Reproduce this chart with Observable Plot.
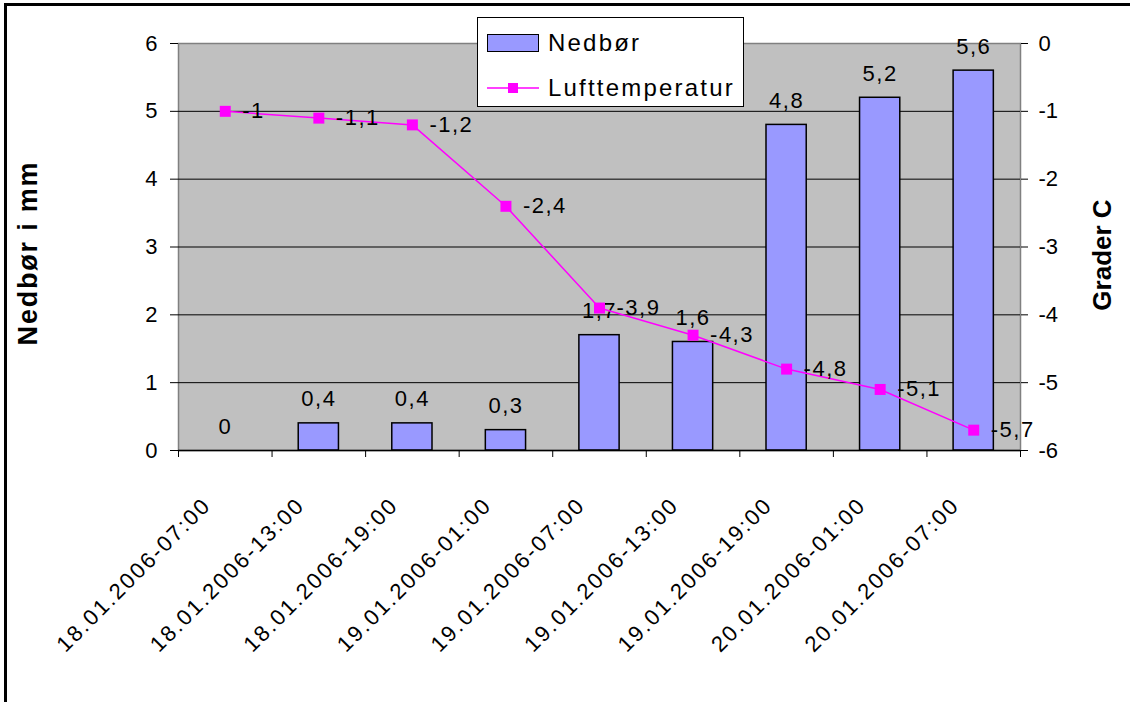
<!DOCTYPE html>
<html><head><meta charset="utf-8">
<script src="https://cdn.jsdelivr.net/npm/d3@7"></script>
<script src="https://cdn.jsdelivr.net/npm/@observablehq/plot@0.6"></script>
<style>
body{margin:0;background:#fff;font-family:"Liberation Sans",Arial,sans-serif;}
#wrap{position:relative;width:1130px;height:702px;overflow:hidden;background:#fff;}
#border{position:absolute;left:4px;top:3px;width:1200px;height:800px;border-left:3px solid #000;border-top:3px solid #000;}
#chart{position:absolute;left:0;top:0;}
#legend{position:absolute;left:477px;top:17px;width:265px;height:88px;border:1px solid #000;background:#fff;z-index:2;}
#legend .sw{position:absolute;left:9px;top:16px;width:50px;height:16px;background:#9999FF;border:1px solid #000;}
#legend .lab{position:absolute;left:70px;font-size:24px;line-height:24px;letter-spacing:2.2px;color:#000;white-space:nowrap;}
#legend svg{position:absolute;left:9px;top:62px;}
</style>
</head><body>
<div id="wrap"><div id="border"></div><div id="chart"></div>
<div id="legend">
  <div class="sw"></div><div class="lab" style="top:13px">Nedbør</div>
  <svg width="52" height="16"><line x1="0" x2="52" y1="8" y2="8" stroke="#FF00FF" stroke-width="1.5"/><rect x="21" y="3" width="10" height="10" fill="#FF00FF"/></svg>
  <div class="lab" style="top:58px">Lufttemperatur</div>
</div>
</div>
<script>
const labels = ["18.01.2006-07:00","18.01.2006-13:00","18.01.2006-19:00","19.01.2006-01:00","19.01.2006-07:00","19.01.2006-13:00","19.01.2006-19:00","20.01.2006-01:00","20.01.2006-07:00"];
const nedbor = [0, 0.4, 0.4, 0.3, 1.7, 1.6, 4.8, 5.2, 5.6];
const temperatur = [-1, -1.1, -1.2, -2.4, -3.9, -4.3, -4.8, -5.1, -5.7];
const leftTicks = [0, 1, 2, 3, 4, 5, 6];
const rightTicks = [0, -1, -2, -3, -4, -5, -6];
const leftTitle = "Nedbør i mm";
const rightTitle = "Grader C";

const tempOffset = -d3.min(rightTicks); // right axis [-6,0] maps onto left [0,6]
const fmt = v => String(v).replace(".", ",");
const rows = labels.map((label, i) => ({i, label, rain: nedbor[i], temp: temperatur[i]}));
const cx = d => d.i + 0.5;
const ty = d => d.temp + tempOffset;
const font = "Liberation Sans, Arial, sans-serif";

const chart = Plot.plot({
  width: 1130, height: 702,
  marginLeft: 178, marginRight: 110, marginTop: 43, marginBottom: 252,
  x: {type: "linear", domain: [0, labels.length], axis: null},
  y: {domain: [d3.min(leftTicks), d3.max(leftTicks)], axis: null},
  style: {fontFamily: font, fontSize: "22px", background: "transparent", color: "#000", overflow: "visible"},
  marks: [
    Plot.frame({fill: "#C0C0C0", stroke: "#808080", strokeWidth: 1.5}),
    Plot.ruleY(leftTicks.filter(t => t > d3.min(leftTicks) && t < d3.max(leftTicks)), {stroke: "#000", strokeWidth: 1}),
    Plot.rectY(rows, {x1: d => d.i + 0.285, x2: d => d.i + 0.715, y: "rain", fill: "#9999FF", stroke: "#000", strokeWidth: 1.5}),
    Plot.ruleY([0], {stroke: "#000", strokeWidth: 1.5}),
    Plot.text(rows, {x: cx, y: "rain", text: d => fmt(d.rain), dy: -17, lineAnchor: "bottom", fontSize: 22}),
    Plot.line(rows, {x: cx, y: ty, stroke: "#FF00FF", strokeWidth: 1.5}),
    Plot.dot(rows, {x: cx, y: ty, symbol: "square", r: 6.2, fill: "#FF00FF"}),
    Plot.text(rows, {x: cx, y: ty, text: d => fmt(d.temp), dx: 17, textAnchor: "start", fontSize: 22}),
    Plot.axisY(leftTicks, {anchor: "left", tickSize: 8, tickPadding: 13, tickFormat: d => String(d), label: null, fontSize: 22}),
    Plot.axisY(rightTicks.map(t => t + tempOffset), {anchor: "right", tickSize: 7, tickPadding: 11, tickFormat: d => fmt(d - tempOffset), label: null, fontSize: 22}),
    Plot.axisX(d3.range(labels.length + 1), {anchor: "bottom", tickSize: 7, tickFormat: () => "", label: null}),
    Plot.text(rows, {x: cx, y: () => 0, text: "label", rotate: -45, textAnchor: "end", lineAnchor: "bottom", dy: 56, dx: -13, fontSize: 22}),
    Plot.text([leftTitle], {frameAnchor: "left", text: d => d, rotate: -90, textAnchor: "middle", lineAnchor: "bottom", dx: -142, dy: 6, fontSize: 27, fontWeight: "bold"}),
    Plot.text([rightTitle], {frameAnchor: "right", text: d => d, rotate: -90, textAnchor: "middle", lineAnchor: "bottom", dx: 90, dy: 8, fontSize: 26, fontWeight: "bold"})
  ]
});
document.getElementById("chart").appendChild(chart);
const valueTexts = new Set([...nedbor, ...temperatur].map(fmt));
const labelSet = new Set(labels);
d3.select(chart).selectAll("text").each(function () {
  const t = this.textContent;
  const g = this.closest("g[aria-label]");
  const isAxis = g && /axis/.test(g.getAttribute("aria-label") || "");
  if (t === leftTitle) this.style.letterSpacing = "1.8px";
  else if (labelSet.has(t)) this.style.letterSpacing = "2.2px";
  else if (valueTexts.has(t) && !isAxis) this.style.letterSpacing = "1.5px";
});
</script>
</body></html>
